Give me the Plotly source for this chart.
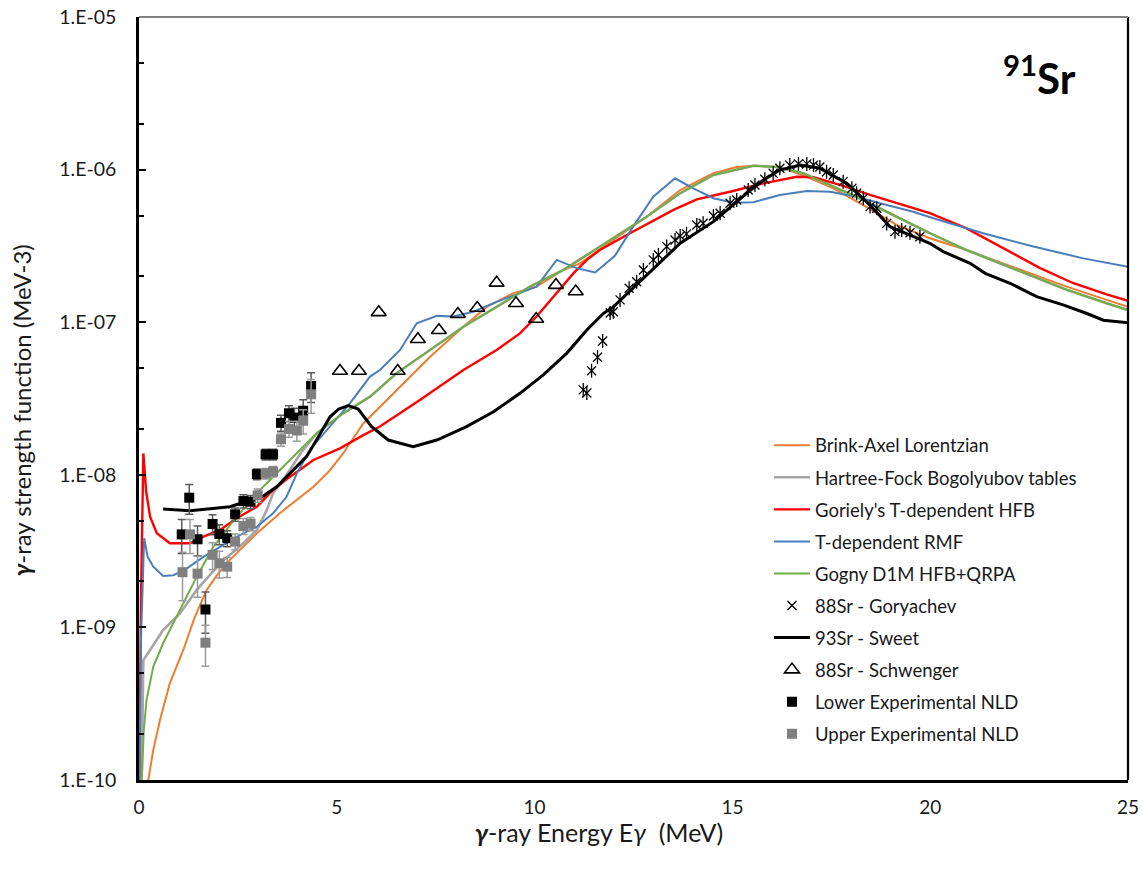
import plotly.graph_objects as go

# ---------------- model curves: photon strength functions (MeV^-3) ----------------
ba_E = [0.235, 0.36, 0.53, 0.78, 1.12, 1.40, 1.71, 2.00, 2.30, 2.64, 2.98, 3.56, 4.00, 4.41, 4.80,
        5.16, 5.67, 6.51, 7.36, 8.20, 8.79, 9.46, 10.05, 10.73, 11.15, 11.99, 12.83, 13.68, 14.52,
        15.11, 15.61, 16.20, 16.88, 17.55, 18.31, 19.15, 19.99, 20.92, 22.19, 23.45, 24.46, 25.0]
ba_f = [1.0e-10, 1.57e-10, 2.47e-10, 4.31e-10, 7.11e-10, 1.15e-9, 1.76e-9, 2.25e-9, 2.77e-9, 3.40e-9,
        4.14e-9, 5.60e-9, 6.90e-9, 8.36e-9, 1.05e-8, 1.38e-8, 2.17e-8, 3.60e-8, 5.94e-8, 9.34e-8,
        1.26e-7, 1.55e-7, 1.71e-7, 2.20e-7, 2.43e-7, 3.46e-7, 4.91e-7, 7.35e-7, 9.46e-7, 1.04e-6,
        1.06e-6, 1.04e-6, 8.98e-7, 7.54e-7, 5.86e-7, 4.34e-7, 3.55e-7, 2.97e-7, 2.26e-7, 1.71e-7,
        1.40e-7, 1.26e-7]

hfb_E = [0.07, 0.11, 0.28, 0.61, 1.04, 1.46, 2.05, 2.64, 2.98, 3.23, 3.39, 3.73, 4.10, 4.49, 5.16,
         5.84, 6.51, 7.36, 8.20, 9.04, 9.88, 10.73, 11.99, 12.83, 13.68, 14.52, 15.53, 16.12, 16.79,
         17.55, 18.31, 19.15, 19.99, 20.92, 22.19, 23.45, 24.46, 25.0]
hfb_f = [1.11e-10, 6.11e-10, 7.11e-10, 9.61e-10, 1.24e-9, 1.76e-9, 2.63e-9, 3.56e-9, 4.35e-9, 5.87e-9,
         7.56e-9, 9.98e-9, 1.40e-8, 1.87e-8, 2.53e-8, 3.25e-8, 4.63e-8, 6.58e-8, 9.34e-8, 1.26e-7,
         1.71e-7, 2.20e-7, 3.55e-7, 4.91e-7, 7.00e-7, 9.22e-7, 1.06e-6, 1.04e-6, 9.46e-7, 7.73e-7,
         6.32e-7, 4.91e-7, 3.83e-7, 2.97e-7, 2.20e-7, 1.63e-7, 1.33e-7, 1.20e-7]

gor_E = [0.01, 0.05, 0.11, 0.18, 0.28, 0.45, 0.78, 1.29, 1.63, 2.05, 2.47, 2.98, 3.39, 3.82, 4.41,
         5.08, 5.67, 6.09, 7.10, 8.20, 9.04, 9.63, 10.05, 10.56, 10.98, 11.32, 11.65, 12.41, 13.51,
         14.10, 14.94, 15.78, 16.63, 17.05, 17.72, 18.48, 19.15, 19.99, 20.92, 21.76, 22.78, 23.62,
         24.46, 25.0]
gor_f = [1.0e-10, 1.51e-9, 1.38e-8, 7.80e-9, 5.31e-9, 4.14e-9, 3.56e-9, 3.56e-9, 3.93e-9, 4.35e-9,
         5.19e-9, 6.18e-9, 7.95e-9, 9.72e-9, 1.25e-8, 1.49e-8, 1.82e-8, 2.07e-8, 3.09e-8, 4.86e-8,
         6.58e-8, 8.45e-8, 1.09e-7, 1.55e-7, 2.09e-7, 2.56e-7, 2.97e-7, 3.83e-7, 5.44e-7, 6.38e-7,
         7.16e-7, 8.13e-7, 8.98e-7, 8.91e-7, 7.93e-7, 6.82e-7, 6.02e-7, 5.18e-7, 4.12e-7, 3.13e-7,
         2.26e-7, 1.80e-7, 1.52e-7, 1.38e-7]

rmf_E = [0.01, 0.05, 0.13, 0.22, 0.36, 0.61, 0.87, 1.21, 1.63, 2.05, 2.55, 2.98, 3.39, 3.73, 3.99,
         4.32, 4.83, 5.33, 5.84, 6.09, 6.60, 7.02, 7.53, 7.95, 8.45, 9.04, 10.05, 10.56, 11.06, 11.53,
         12.03, 12.49, 13.00, 13.55, 14.01, 14.52, 15.02, 15.53, 16.20, 16.88, 17.47, 18.14, 18.73,
         19.57, 20.08, 21.34, 22.61, 23.87, 25.0]
rmf_f = [1.0e-10, 8.26e-10, 3.84e-9, 2.90e-9, 2.50e-9, 2.17e-9, 2.20e-9, 2.44e-9, 2.90e-9, 3.38e-9,
         4.03e-9, 4.57e-9, 5.60e-9, 7.18e-9, 1.02e-8, 1.46e-8, 2.07e-8, 2.94e-8, 4.40e-8, 4.86e-8,
         6.58e-8, 9.84e-8, 1.10e-7, 1.09e-7, 1.17e-7, 1.36e-7, 1.71e-7, 2.56e-7, 2.26e-7, 2.12e-7,
         2.72e-7, 4.23e-7, 6.64e-7, 8.77e-7, 7.54e-7, 6.49e-7, 6.07e-7, 6.11e-7, 6.82e-7, 7.24e-7,
         7.16e-7, 6.64e-7, 6.02e-7, 5.30e-7, 4.80e-7, 3.83e-7, 3.13e-7, 2.62e-7, 2.31e-7]

gogny_E = [0.07, 0.12, 0.19, 0.36, 0.61, 1.04, 1.46, 1.88, 2.47, 3.14, 3.82, 4.49, 5.16, 5.84, 6.51,
           7.36, 8.20, 9.04, 9.88, 10.73, 11.99, 12.83, 13.68, 14.52, 15.53, 16.12, 16.79, 17.55,
           18.31, 19.15, 19.99, 20.92, 22.19, 23.45, 24.46, 25.0]
gogny_f = [1.0e-10, 2.10e-10, 3.34e-10, 5.52e-10, 7.87e-10, 1.30e-9, 2.15e-9, 3.38e-9, 5.31e-9,
           8.36e-9, 1.25e-8, 1.87e-8, 2.53e-8, 3.25e-8, 4.63e-8, 6.58e-8, 9.34e-8, 1.26e-7, 1.71e-7,
           2.20e-7, 3.55e-7, 4.91e-7, 7.00e-7, 9.22e-7, 1.06e-6, 1.04e-6, 9.46e-7, 7.73e-7, 6.32e-7,
           4.91e-7, 3.83e-7, 2.97e-7, 2.20e-7, 1.63e-7, 1.33e-7, 1.20e-7]

# ---------------- 93Sr (Sweet) ----------------
sweet_E = [0.61, 1.29, 2.30, 3.14, 3.48, 3.90, 4.24, 4.55, 4.83, 5.05, 5.29, 5.54, 5.88, 6.30, 6.93,
           7.53, 8.28, 8.96, 9.63, 10.22, 10.81, 11.32, 11.74, 11.99, 12.83, 13.68, 14.52, 15.36,
           15.80, 16.20, 16.71, 17.21, 17.89, 18.48, 18.98, 19.57, 19.99, 20.33, 21.01, 21.39, 22.02,
           22.69, 23.36, 23.96, 24.38, 25.0]
sweet_f = [5.97e-9, 5.82e-9, 6.18e-9, 7.26e-9, 8.35e-9, 1.07e-8, 1.32e-8, 1.80e-8, 2.40e-8, 2.70e-8,
           2.84e-8, 2.70e-8, 2.07e-8, 1.69e-8, 1.53e-8, 1.69e-8, 2.07e-8, 2.59e-8, 3.42e-8, 4.51e-8,
           6.25e-8, 8.89e-8, 1.14e-7, 1.26e-7, 2.04e-7, 3.29e-7, 4.56e-7, 7.00e-7, 8.60e-7, 9.93e-7,
           1.07e-6, 1.02e-6, 8.13e-7, 5.86e-7, 4.23e-7, 3.63e-7, 3.29e-7, 2.90e-7, 2.43e-7, 2.09e-7,
           1.80e-7, 1.47e-7, 1.30e-7, 1.14e-7, 1.03e-7, 9.93e-8]

# ---------------- 88Sr (Goryachev) ----------------
goryachev_E = [11.23, 11.32, 11.44, 11.59, 11.72, 11.91, 11.99, 12.16, 12.39, 12.58, 12.75, 13.00,
               13.13, 13.34, 13.55, 13.68, 13.84, 14.10, 14.26, 14.52, 14.69, 14.94, 15.11, 15.40,
               15.57, 15.82, 16.03, 16.20, 16.45, 16.67, 16.88, 17.05, 17.21, 17.38, 17.55, 17.80,
               18.02, 18.14, 18.31, 18.48, 18.65, 18.90, 19.11, 19.28, 19.49, 19.74]
goryachev_f = [3.60e-8, 3.44e-8, 4.81e-8, 5.89e-8, 7.53e-8, 1.15e-7, 1.17e-7, 1.40e-7, 1.67e-7, 1.84e-7,
               2.20e-7, 2.56e-7, 2.76e-7, 3.13e-7, 3.46e-7, 3.67e-7, 3.79e-7, 4.34e-7, 4.45e-7, 4.97e-7,
               5.18e-7, 6.02e-7, 6.32e-7, 7.35e-7, 7.93e-7, 8.64e-7, 9.46e-7, 1.02e-6, 1.07e-6, 1.09e-6,
               1.09e-6, 1.07e-6, 1.04e-6, 9.68e-7, 9.22e-7, 8.34e-7, 7.54e-7, 7.00e-7, 6.49e-7, 5.72e-7,
               5.58e-7, 4.44e-7, 3.92e-7, 4.02e-7, 3.86e-7, 3.63e-7]

# ---------------- 88Sr (Schwenger) ----------------
schwenger_E = [5.08, 5.56, 6.06, 6.54, 7.05, 7.58, 8.06, 8.55, 9.04, 9.53, 10.04, 10.54, 11.04]
schwenger_f = [4.79e-8, 4.79e-8, 1.16e-7, 4.79e-8, 7.73e-8, 8.85e-8, 1.13e-7, 1.24e-7, 1.81e-7,
               1.33e-7, 1.05e-7, 1.75e-7, 1.59e-7]

# ---------------- Oslo-method points, lower / upper NLD normalisation ----------------
lower_E = [1.08, 1.27, 1.48, 1.68, 1.86, 2.03, 2.23, 2.43, 2.64, 2.82, 2.98, 3.20, 3.39, 3.59, 3.79,
           3.93, 4.15, 4.35]
lower_f = [4.07e-9, 7.08e-9, 3.78e-9, 1.31e-9, 4.76e-9, 4.09e-9, 3.84e-9, 5.51e-9, 6.73e-9, 6.66e-9,
           1.01e-8, 1.36e-8, 1.36e-8, 2.19e-8, 2.53e-8, 2.37e-8, 2.63e-8, 3.82e-8]
lower_rel_err = [0.25, 0.22, 0.22, 0.30, 0.15, 0.15, 0.12, 0.10, 0.10, 0.10,
                 0.08, 0.08, 0.08, 0.12, 0.12, 0.15, 0.18, 0.22]

upper_E = [1.10, 1.29, 1.48, 1.68, 1.86, 2.03, 2.23, 2.43, 2.64, 2.82, 3.00, 3.20, 3.39, 3.59, 3.79,
           3.99, 4.15, 4.35]
upper_f = [2.30e-9, 4.07e-9, 2.25e-9, 7.94e-10, 2.99e-9, 2.63e-9, 2.50e-9, 3.65e-9, 4.62e-9, 4.78e-9,
           7.34e-9, 1.02e-8, 1.05e-8, 1.71e-8, 2.00e-8, 1.95e-8, 2.26e-8, 3.37e-8]
upper_rel_err = [0.35, 0.25, 0.30, 0.30, 0.20, 0.20, 0.15, 0.12, 0.12, 0.10,
                 0.10, 0.08, 0.08, 0.10, 0.12, 0.15, 0.18, 0.25]

y_tick_vals = [1e-10, 1e-9, 1e-8, 1e-7, 1e-6, 1e-5]
y_tick_text = ["1.E-10", "1.E-09", "1.E-08", "1.E-07", "1.E-06", "1.E-05"]
x_tick_vals = [0, 5, 10, 15, 20, 25]

FONT = "Lato"
TXT = "#1a1a1a"

fig = go.Figure()


def curve(x, y, name, color, width=2.0, rank=0):
    fig.add_trace(go.Scatter(x=x, y=y, mode="lines", name=name, legendgroup=name, legendrank=rank,
                             line=dict(color=color, width=width)))


curve(ba_E, ba_f, "Brink-Axel Lorentzian", "#ED7D31", 2.0, 1)
curve(hfb_E, hfb_f, "Hartree-Fock Bogolyubov tables", "#A5A5A5", 2.6, 2)
curve(gor_E, gor_f, "Goriely's T-dependent HFB", "#FF0000", 2.4, 3)
curve(rmf_E, rmf_f, "T-dependent RMF", "#4A7EBB", 2.0, 4)
curve(gogny_E, gogny_f, "Gogny D1M HFB+QRPA", "#70AD47", 2.0, 5)

# Goryachev: x-shaped star with a vertical stroke
fig.add_trace(go.Scatter(x=goryachev_E, y=goryachev_f, mode="markers", name="88Sr - Goryachev",
                         legendgroup="gory", legendrank=6,
                         marker=dict(symbol="x-thin-open", size=9, color="black",
                                     line=dict(color="black", width=1.3))))
fig.add_trace(go.Scatter(x=goryachev_E, y=goryachev_f, mode="markers", showlegend=False,
                         legendgroup="gory", hoverinfo="skip",
                         marker=dict(symbol="line-ns-open", size=10, color="black",
                                     line=dict(color="black", width=1.3))))

fig.add_trace(go.Scatter(x=sweet_E, y=sweet_f, mode="lines", name="93Sr - Sweet",
                         legendgroup="sweet", legendrank=7,
                         line=dict(color="black", width=3.0)))

fig.add_trace(go.Scatter(x=schwenger_E, y=schwenger_f, mode="markers", name="88Sr - Schwenger",
                         legendgroup="schw", legendrank=8,
                         marker=dict(symbol="triangle-up-open", size=13, color="black",
                                     line=dict(color="black", width=1.6))))

fig.add_trace(go.Scatter(
    x=lower_E, y=lower_f, mode="markers", name="Lower Experimental NLD", legendgroup="lower",
    legendrank=9,
    marker=dict(symbol="square", size=10, color="black"),
    error_y=dict(type="data", array=[v * e for v, e in zip(lower_f, lower_rel_err)],
                 color="#5A5A5A", thickness=1.5, width=4)))
fig.add_trace(go.Scatter(
    x=upper_E, y=upper_f, mode="markers", name="Upper Experimental NLD", legendgroup="upper",
    legendrank=10,
    marker=dict(symbol="square", size=10, color="#7F7F7F"),
    error_y=dict(type="data", array=[v * e for v, e in zip(upper_f, upper_rel_err)],
                 color="#9A9A9A", thickness=1.5, width=4)))

fig.update_layout(
    width=1143, height=876,
    margin=dict(l=139, r=15, t=17, b=96, autoexpand=False),
    paper_bgcolor="white", plot_bgcolor="white",
    font=dict(family=FONT, size=16, color=TXT),
    showlegend=True,
    legend=dict(x=0.637, y=0.463, xanchor="left", yanchor="top",
                traceorder="grouped", tracegroupgap=5,
                font=dict(family=FONT, size=18.5, color=TXT),
                bgcolor="rgba(0,0,0,0)", itemwidth=36),
    xaxis=dict(range=[0, 25], tickvals=x_tick_vals, ticks="", showgrid=False, zeroline=False,
               automargin=False,
               showline=True, linecolor="black", linewidth=2.5,
               tickfont=dict(family=FONT, size=19, color=TXT), ticklabelstandoff=8),
    yaxis=dict(type="log", range=[-10, -5], tickvals=y_tick_vals, ticktext=y_tick_text,
               automargin=False,
               ticks="inside", ticklen=7, tickwidth=1.5, tickcolor="black",
               minor=dict(ticks="inside", ticklen=5, tickwidth=1.5, tickcolor="black", showgrid=False),
               showgrid=False, zeroline=False,
               showline=True, linecolor="black", linewidth=2.5,
               tickfont=dict(family=FONT, size=19.5, color=TXT), ticklabelstandoff=16),
)

# right and top frame lines
fig.add_shape(type="line", xref="paper", yref="paper", x0=1, x1=1, y0=0, y1=1,
              line=dict(color="black", width=2.2))
fig.add_shape(type="line", xref="paper", yref="paper", x0=0, x1=1, y0=1, y1=1,
              line=dict(color="#808080", width=2.2))

# axis titles
fig.add_annotation(xref="paper", yref="paper", x=0.465, y=-0.068, xanchor="center", yanchor="middle",
                   text="<b><i>γ</i></b>-ray Energy E<i>γ</i>  (MeV)", showarrow=False,
                   font=dict(family=FONT, size=25, color=TXT))
fig.add_annotation(xref="paper", yref="paper", x=-0.118, y=0.485, xanchor="center", yanchor="middle",
                   text="<b><i>γ</i></b>-ray strength function (MeV-3)", showarrow=False, textangle=-90,
                   font=dict(family=FONT, size=24, color=TXT))

fig.add_annotation(xref="paper", yref="paper", x=0.911, y=0.924, xanchor="center", yanchor="middle",
                   text="<b><sup>91</sup>Sr</b>", showarrow=False,
                   font=dict(family=FONT, size=42, color="black"))

fig.write_html("out.html")
